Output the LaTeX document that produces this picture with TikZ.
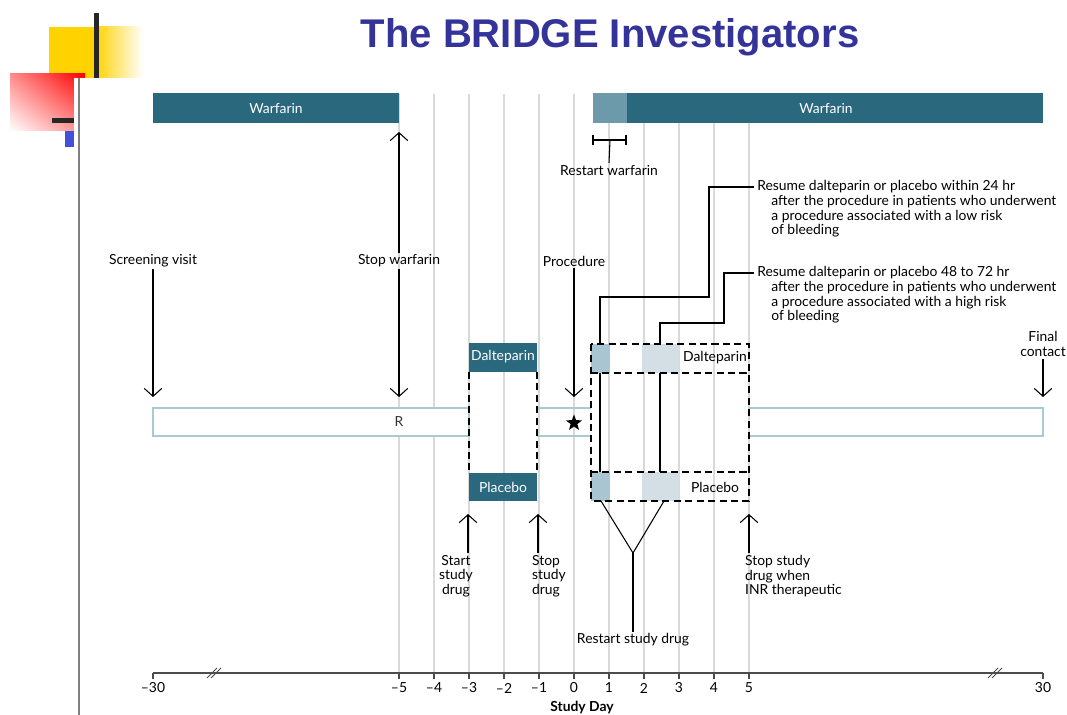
\documentclass[tikz,border=0pt]{standalone}
\usepackage{fontspec}
\setmainfont{Lato}
\newfontfamily\titlefont{Liberation Sans}
\usetikzlibrary{arrows.meta,calc,positioning,shapes.geometric,shadings}

\definecolor{warf}{HTML}{2A687E}
\definecolor{warflight}{HTML}{6C9AAB}
\definecolor{blkmid}{HTML}{A9C5D2}
\definecolor{blklight}{HTML}{D3DFE5}
\definecolor{gridgray}{HTML}{D9D9D9}
\definecolor{rbar}{HTML}{A9C9D3}
\definecolor{titleblue}{HTML}{333399}
\definecolor{slideyellow}{HTML}{FFD200}
\definecolor{slideblue}{HTML}{4550D8}

\begin{document}
\begin{tikzpicture}[x=0.02cm, y=-0.02cm,
    lbl/.style={font=\fontsize{7.9}{8.4}\selectfont, inner sep=1pt, align=center},
    wlbl/.style={lbl, text=white},
    gridline/.style={gridgray, line width=0.6pt},
    darr/.style={line width=0.6pt, -{Straight Barb[length=4.5pt,width=10pt]}},
    conn/.style={line width=0.6pt},
    dashbox/.style={line width=0.6pt, dash pattern=on 4pt off 2.5pt},
    axisline/.style={black!70, line width=0.8pt}]
\useasboundingbox (0,0) rectangle (1067,715);

    % Slide corner decoration
    \fill[slideyellow] (49,27) rectangle (95,78);
    \shade[left color=slideyellow, right color=white] (95,27) rectangle (143,78);
    \shade[upper right=red, upper left=red!45, lower left=white, lower right=red!45] (10,74) rectangle (85,131);
    \fill[white] (74,78) rectangle (1067,715);
    \fill[black!85] (94,13) rectangle (99,78);
    \fill[black!85] (52,118) rectangle (74,123);
    \fill[slideblue] (65,131) rectangle (74,147);
    \draw[gray, line width=1pt] (79,78) -- (79,715);

    \node[font=\titlefont\bfseries\fontsize{22.8}{26}\selectfont, text=titleblue, anchor=base] (title) at (610,48) {The BRIDGE Investigators};

    % Day grid
    \foreach \d in {-5,...,5} {
        \draw[gridline] ({574+35*\d},94) -- ({574+35*\d},673);
    }

    % Warfarin bars
    \fill[warf] (153,93) rectangle (399,123);
    \node[wlbl] (warfL) at (276,108) {Warfarin};
    \fill[warflight] (593,93) rectangle (627,123);
    \fill[warf] (627,93) rectangle (1043,123);
    \node[wlbl] (warfR) at (826,108) {Warfarin};

    % Restart warfarin
    \draw[conn] (593,135) -- (593,145) (593,140) -- (626,140) (626,135) -- (626,145);
    \coordinate (rwtop) at (610,140);
    \node[lbl] (rwarf) at (609,170) {Restart warfarin};
    \draw[conn] (rwtop) -- (rwarf.north);

    % Events above the timeline
    \node[lbl] (screen) at (153,261) {Screening visit};
    \coordinate (tscreen) at (153,397);
    \draw[darr] (screen.south) -- (tscreen);
    \node[lbl] (stopw) at (399,261) {Stop warfarin};
    \coordinate (twarf) at (399,132);
    \coordinate (tstopw) at (399,397);
    \draw[darr] (stopw.north) -- (twarf);
    \draw[darr] (stopw.south) -- (tstopw);
    \node[lbl] (proc) at (574,261) {Procedure};
    \coordinate (tproc) at (574,397);
    \draw[darr] (proc.south) -- (tproc);
    \node[lbl] (final) at (1043,344) {Final\\contact};
    \coordinate (tfinal) at (1043,397);
    \draw[darr] (final.south) -- (tfinal);

    % Resume notes
    \node[lbl, align=left, anchor=north west, inner sep=0pt] (resA) at (757,180)
        {Resume dalteparin or placebo within 24 hr\\
         \hspace*{0.28cm}after the procedure in patients who underwent\\
         \hspace*{0.28cm}a procedure associated with a low risk\\
         \hspace*{0.28cm}of bleeding};
    \node[lbl, align=left, anchor=north west, inner sep=0pt] (resB) at (757,266)
        {Resume dalteparin or placebo 48 to 72 hr\\
         \hspace*{0.28cm}after the procedure in patients who underwent\\
         \hspace*{0.28cm}a procedure associated with a high risk\\
         \hspace*{0.28cm}of bleeding};
    \coordinate (resAin) at ($(resA.north west)+(-3,7)$);
    \coordinate (resBin) at ($(resB.north west)+(-3,7)$);
    \coordinate (lowrisk) at (600,472);
    \coordinate (highrisk) at (660,472);
    \draw[conn] (resAin) -| (709,297) -| (lowrisk);
    \draw[conn] (resBin) -| (724,323) -| (highrisk);

    % Timeline bar
    \draw[rbar, line width=0.7pt, fill=white] (153,408) rectangle (469,436);
    \node[lbl, text=black!80] (rlbl) at (399,422) {R};
    \draw[rbar, line width=0.7pt] (537,408) -- (591,408) (537,436) -- (591,436);
    \draw[rbar, line width=0.7pt] (749,408) -- (1043,408) -- (1043,436) -- (749,436);
    \node[star, star points=5, star point ratio=2.4, fill=black, inner sep=0pt, minimum size=0.34cm] (star) at (574,423) {};

    % Bridging before the procedure
    \draw[dashbox] (469,372) -- (469,473) (537,372) -- (537,473);
    \fill[warf] (469,343) rectangle (537,372);
    \node[wlbl] (daltL) at (503,357) {Dalteparin};
    \fill[warf] (469,473) rectangle (537,501);
    \node[wlbl] (placL) at (503,487) {Placebo};

    % Bridging after the procedure
    \fill[blkmid] (591,344) rectangle (610,373);
    \fill[blklight] (642,344) rectangle (679,373);
    \fill[blkmid] (591,472) rectangle (610,501);
    \fill[blklight] (642,472) rectangle (679,501);
    \draw[dashbox] (591,344) rectangle (749,501);
    \draw[dashbox] (591,373) -- (749,373) (591,472) -- (749,472);
    \node[lbl] (daltR) at (715,358) {Dalteparin};
    \node[lbl] (placR) at (715,487) {Placebo};

    % Events below the timeline
    \coordinate (tstart) at (468,514);
    \coordinate (tstop) at (538,514);
    \coordinate (tinr) at (749,514);
    \node[lbl, anchor=north] (startsd) at (456,553) {Start\\study\\drug};
    \node[lbl, align=left, anchor=north west] (stopsd) at (530,553) {Stop\\study\\drug};
    \node[lbl, align=left, anchor=north west] (stopinr) at (743,553) {Stop study\\drug when\\INR therapeutic};
    \draw[darr] (startsd.north -| tstart) -- (tstart);
    \draw[darr] (stopsd.north -| tstop) -- (tstop);
    \draw[darr] (stopinr.north -| tinr) -- (tinr);

    % Restart study drug
    \coordinate (fork) at (633,553);
    \node[lbl] (rsd) at (633,640) {Restart study drug};
    \draw[conn] (601,501) -- (fork) -- (664,501);
    \draw[conn] (fork) -- (rsd.north);

    % Study day axis
    \draw[axisline] (153,673) -- (1043,673);
    \draw[axisline] (153,673) -- ++(0,6) (1043,673) -- ++(0,6);
    \node[lbl] (dmin) at (153,688) {--30};
    \node[lbl] (dmax) at (1043,688) {30};
    \foreach \d/\t in {-5/--5,-4/--4,-3/--3,-2/--2,-1/--1,0/0,1/1,2/2,3/3,4/4,5/5} {
        \draw[axisline] ({574+35*\d},673) -- ++(0,6);
        \node[lbl] (day\d) at ({574+35*\d},688) {\t};
    }
    \draw[axisline, line width=0.5pt] (207,678) -- (217,668) (211,678) -- (221,668);
    \draw[axisline, line width=0.5pt] (988,678) -- (998,668) (992,678) -- (1002,668);
    \node[lbl, font=\fontsize{7.9}{8.4}\selectfont\bfseries] (sday) at (582,708) {Study Day};
\end{tikzpicture}
\end{document}
